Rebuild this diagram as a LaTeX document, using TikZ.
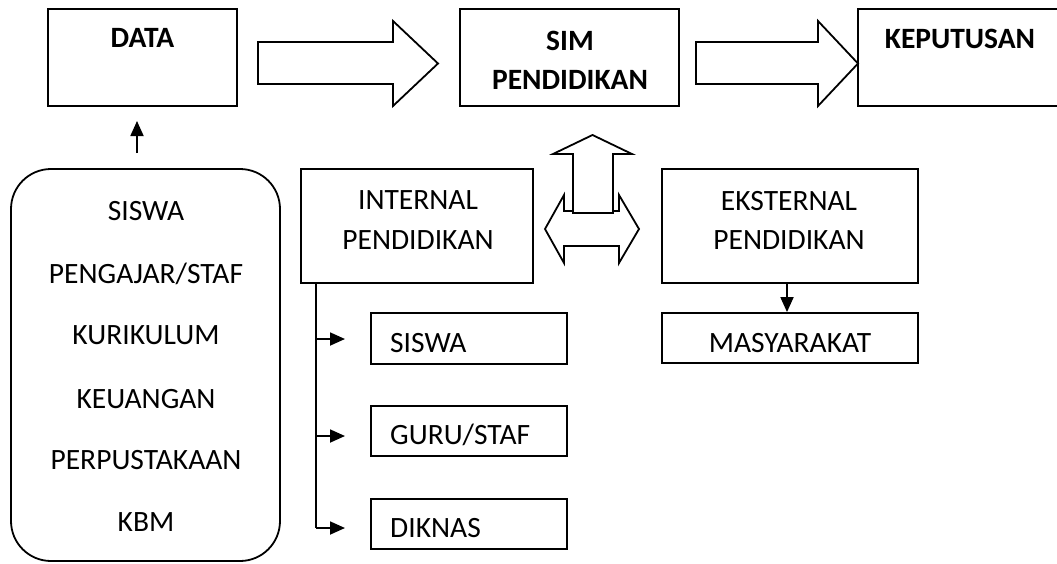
\documentclass[tikz,border=0pt]{standalone}
\usepackage{fontspec}
\setmainfont{Carlito}
\usetikzlibrary{arrows.meta}
\begin{document}
\begin{tikzpicture}[x=1pt,y=-1pt,
  box/.style={draw=black,line width=1.8pt,rectangle,inner sep=0pt},
  blk/.style={draw=black,line width=1.8pt,fill=white,line join=miter},
  txt/.style={anchor=base,inner sep=0pt,font=\fontsize{29.5}{34}\selectfont},
  btxt/.style={anchor=base,inner sep=0pt,font=\fontsize{29.5}{34}\selectfont\bfseries},
  ltxt/.style={anchor=base west,inner sep=0pt,font=\fontsize{29.5}{34}\selectfont},
  arr/.style={line width=1.8pt,-{Triangle[length=15pt,width=13pt]}}]
\useasboundingbox (0,0) rectangle (1057,563);
% top row boxes
\node[box,minimum width=189pt,minimum height=97pt] (data) at (142.5,57.5) {};
\node[btxt] (tdata) at (142.5,47.5) {DATA};
\node[box,minimum width=219pt,minimum height=97pt] (sim) at (569.5,57.5) {};
\node[btxt] (tsim1) at (570,50) {SIM};
\node[btxt] (tsim2) at (570,89.5) {PENDIDIKAN};
\node[box,minimum width=206pt,minimum height=97pt] (kep) at (961,57.5) {};
\node[btxt] (tkep) at (960,48.5) {KEPUTUSAN};
% block arrows
\draw[blk] (258,42) -- (393,42) -- (393,21) -- (438,63.5) -- (393,106) -- (393,84) -- (258,84) -- cycle;
\draw[blk] (696,42) -- (818,42) -- (818,21) -- (858,63.5) -- (818,106) -- (818,84) -- (696,84) -- cycle;
% double arrow and up arrow
\draw[blk] (545,229) -- (564,195) -- (564,211) -- (619,211) -- (619,195) -- (639,229) -- (619,263) -- (619,246) -- (564,246) -- (564,263) -- cycle;
\draw[blk] (573,213) -- (573,154) -- (553,154) -- (592.5,135) -- (632,154) -- (613,154) -- (613,213) -- cycle;
% left rounded box
\node[box,rounded corners=40pt,minimum width=269pt,minimum height=392pt] (src) at (145.5,365) {};
\node[txt] (s1) at (146,220.5) {SISWA};
\node[txt] (s2) at (146,283) {PENGAJAR/STAF};
\node[txt] (s3) at (146,344.5) {KURIKULUM};
\node[txt] (s4) at (146,408) {KEUANGAN};
\node[txt] (s5) at (146,469.5) {PERPUSTAKAAN};
\node[txt] (s6) at (146,531.5) {KBM};
\coordinate (upA) at (137,153);
\coordinate (upB) at (137,121);
\draw[arr] (upA) -- (upB);
% internal / external
\node[box,minimum width=232pt,minimum height=114pt] (int) at (417,226) {};
\node[txt] (ti1) at (418,209.5) {INTERNAL};
\node[txt] (ti2) at (418,249.5) {PENDIDIKAN};
\node[box,minimum width=256pt,minimum height=114pt] (ext) at (790,226) {};
\node[txt] (te1) at (789,210) {EKSTERNAL};
\node[txt] (te2) at (789,249.5) {PENDIDIKAN};
\node[box,minimum width=256pt,minimum height=50pt] (mas) at (790,338) {};
\node[txt] (tm) at (790,352.5) {MASYARAKAT};
\draw[arr] (ext.south -| 787,0) -- (mas.north -| 787,0);
% internal children
\node[box,minimum width=196pt,minimum height=51pt] (c1) at (469,338.5) {};
\node[ltxt] (tc1) at (390,352.5) {SISWA};
\node[box,minimum width=196pt,minimum height=50pt] (c2) at (469,431) {};
\node[ltxt] (tc2) at (390,444.5) {GURU/STAF};
\node[box,minimum width=196pt,minimum height=50pt] (c3) at (469,524) {};
\node[ltxt] (tc3) at (390,537) {DIKNAS};
\coordinate (b0) at (int.south -| 316,0);
\coordinate (b1) at (316,339);
\coordinate (b2) at (316,436);
\coordinate (b3) at (316,528);
\coordinate (e1) at (345,339);
\coordinate (e2) at (345,436);
\coordinate (e3) at (345,528);
\draw[line width=1.8pt] (b0) -- (b3);
\draw[arr] (b1) -- (e1);
\draw[arr] (b2) -- (e2);
\draw[arr] (b3) -- (e3);
\end{tikzpicture}
\end{document}
